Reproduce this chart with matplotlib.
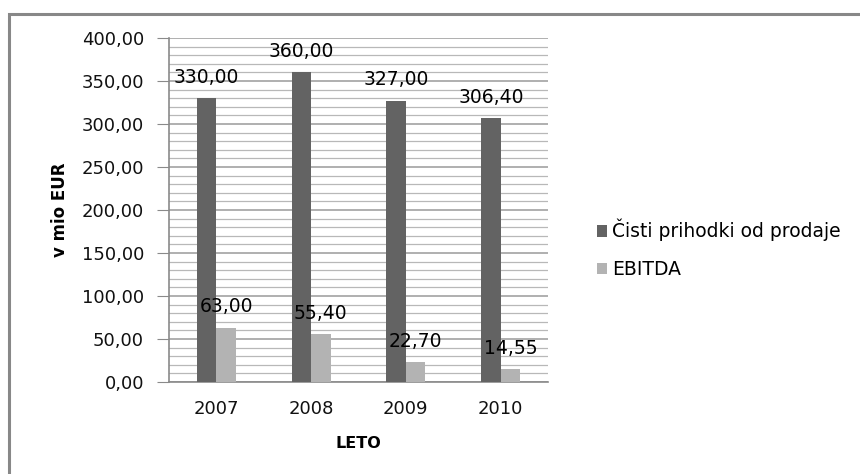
import matplotlib
matplotlib.use("Agg")
import matplotlib.pyplot as plt
from matplotlib.patches import Rectangle
import numpy as np

years = ["2007", "2008", "2009", "2010"]
prihodki = [330.00, 360.00, 327.00, 306.40]
ebitda = [63.00, 55.40, 22.70, 14.55]
series_names = ["Čisti prihodki od prodaje", "EBITDA"]
y_ticks = [0, 50, 100, 150, 200, 250, 300, 350, 400]

dark = "#636363"
light = "#b3b3b3"
grid_col = "#9a9a9a"

W, H = 860, 474
fig = plt.figure(figsize=(W / 100, H / 100), dpi=100)

# outer chart frame
fig.patches.append(Rectangle((9 / W, -0.05), 1.0, (H - 14) / H + 0.05,
                             transform=fig.transFigure, fill=False,
                             edgecolor="#888888", linewidth=2.2))

left, right, top, bottom = 169, 548, 38, 382
ax = fig.add_axes([left / W, 1 - bottom / H, (right - left) / W, (bottom - top) / H])

def fmt(v):
    return f"{v:.2f}".replace(".", ",")

x = np.arange(len(years))
bw = 0.205
b1 = ax.bar(x - bw / 2, prihodki, bw, color=dark, label=series_names[0], zorder=3)
b2 = ax.bar(x + bw / 2, ebitda, bw, color=light, label=series_names[1], zorder=3)

for bars, vals in ((b1, prihodki), (b2, ebitda)):
    for b, v in zip(bars, vals):
        ax.annotate(fmt(v), (b.get_x() + b.get_width() / 2, v),
                    xytext=(0, 21), textcoords="offset pixels",
                    ha="center", va="center", fontsize=13.5,
                    color="#000000", zorder=4)

ax.set_xlim(-0.5, len(years) - 0.5)
ax.set_ylim(0, 400)
ax.set_yticks(y_ticks)
ax.set_yticklabels([fmt(v) for v in y_ticks], fontsize=13, color="#111111")
ax.set_yticks(np.arange(0, 401, 10), minor=True)
ax.set_xticks(x)
ax.set_xticklabels(years, fontsize=13, color="#111111")

ax.grid(axis="y", which="major", color=grid_col, linewidth=1.1, zorder=0)
ax.grid(axis="y", which="minor", color="#b8b8b8", linewidth=0.9, zorder=0)
ax.set_axisbelow(True)

for s in ("top", "right"):
    ax.spines[s].set_visible(False)
for s in ("left", "bottom"):
    ax.spines[s].set_color("#8a8a8a")
    ax.spines[s].set_linewidth(1.2)

ax.tick_params(axis="y", which="major", length=9, color="#8a8a8a", pad=9)
ax.tick_params(axis="y", which="minor", length=0)
ax.tick_params(axis="x", length=0, pad=13)

ax.set_ylabel("v mio EUR", fontsize=12, fontweight="bold", labelpad=9)
ax.set_xlabel("LETO", fontsize=11.5, fontweight="bold", labelpad=13)

fig.legend(handles=[b1, b2], labels=series_names,
           loc="upper left", bbox_to_anchor=(580 / W, 1 - 202 / H),
           frameon=False, fontsize=13.5, handlelength=0.55, handleheight=0.6,
           handletextpad=0.25, labelspacing=1.0)

fig.savefig("out.png", dpi=100)
